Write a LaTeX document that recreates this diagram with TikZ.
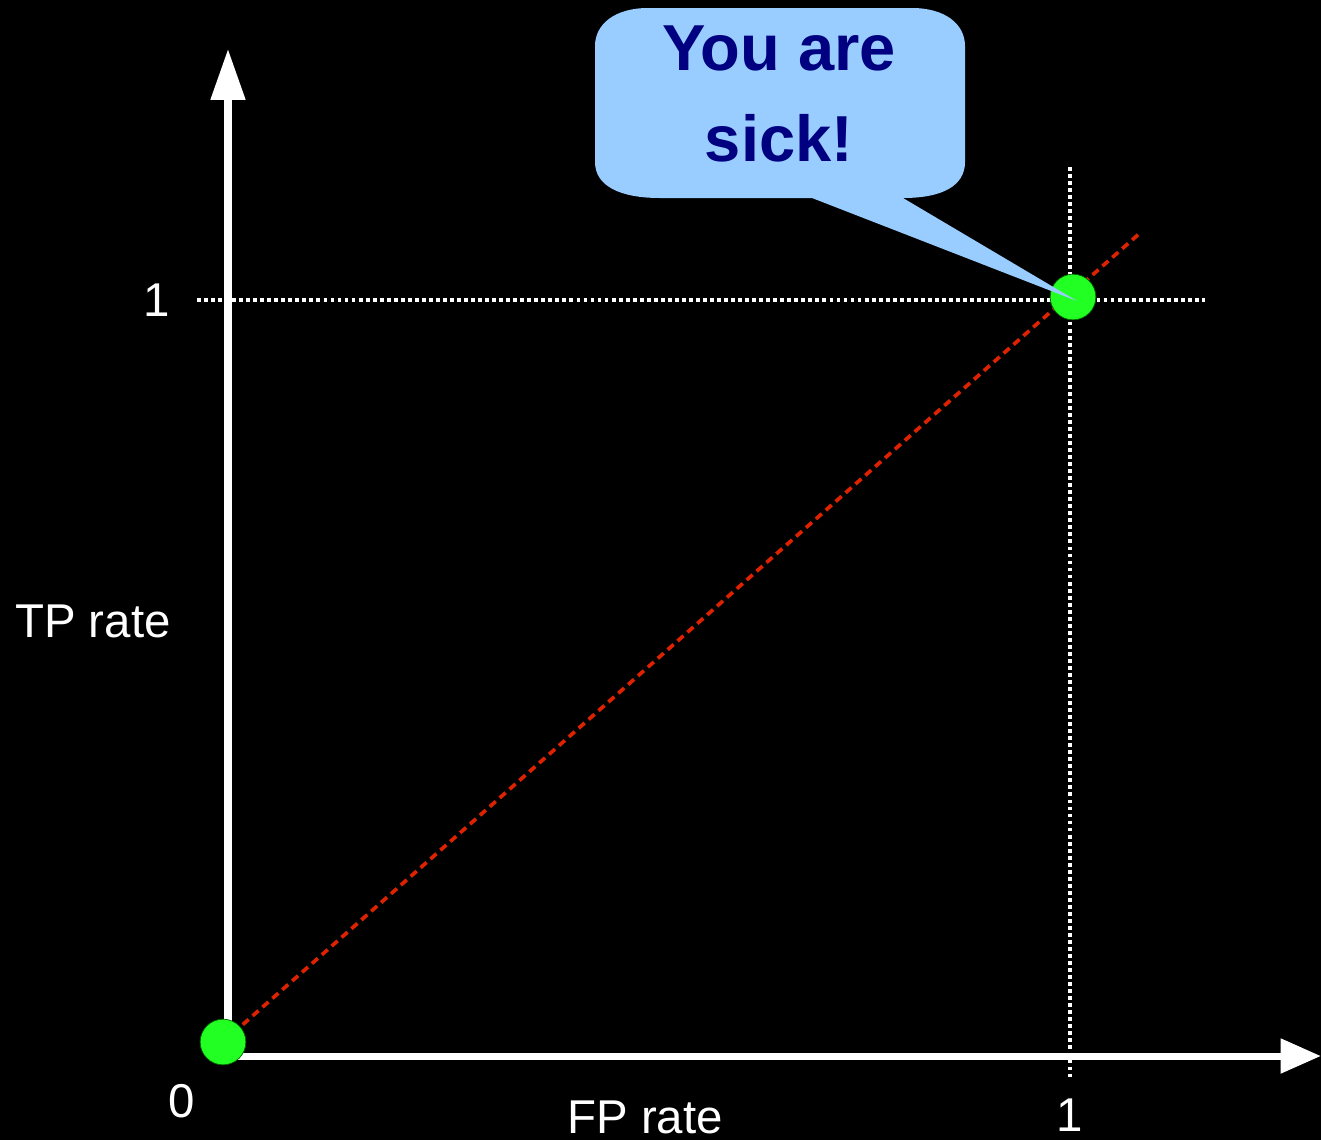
\documentclass[tikz,border=0pt]{standalone}
\usepackage{fontspec}
\setmainfont{Liberation Sans}
\usetikzlibrary{arrows.meta, positioning, calc}
\definecolor{rocgreen}{HTML}{22FF22}
\definecolor{rocred}{HTML}{DD2200}
\definecolor{bubbleblue}{HTML}{99CCFF}
\definecolor{bubbletext}{HTML}{000080}

\begin{document}
\begin{tikzpicture}[
  x=0.02cm, y=-0.02cm,
  axis/.style={draw=white, line width=4pt},
  guide/.style={draw=white, line width=2.4pt, dash pattern=on 2.2pt off 1.8pt},
  chance/.style={draw=rocred, line width=2.1pt, dash pattern=on 4.5pt off 3pt},
  dot/.style={circle, fill=rocgreen, draw=green!40!black, line width=0.4pt,
    minimum size=26pt, inner sep=0pt},
  lbl/.style={text=white, font=\fontsize{27}{31}\selectfont, inner sep=0pt},
  >=Triangle
]
  \fill[black] (0,0) rectangle (1321,1140);
  \useasboundingbox (0,0) rectangle (1321,1140);

  % Guides at 1
  \coordinate (hstart) at (197,300);
  \coordinate (hend) at (1205,300);
  \coordinate (vstart) at (1070,167);
  \coordinate (vend) at (1070,1078);
  \draw[guide] (hstart) -- (hend);
  \draw[guide] (vstart) -- (vend);

  % Axes
  \coordinate (origin) at (228,1056);
  \coordinate (ytip) at (228,49);
  \coordinate (xtip) at (1321,1056);
  \draw[axis, -{Triangle[length=29pt, width=19pt]}] (origin) -- (ytip);
  \draw[axis, -{Triangle[length=23pt, width=19pt]}] (origin) -- (xtip);

  % Diagonal
  \coordinate (p0) at (223,1042);
  \coordinate (p1) at (1073,297);
  \coordinate (diagend) at (1140,233);
  \draw[chance] (p0) -- (diagend);
  \node[dot] (dot0) at (p0) {};
  \node[dot] (dot1) at (p1) {};

  % Labels
  \node[lbl] (yone) at (157,300) {1};
  \node[lbl] (zero) at (182,1101) {0};
  \node[lbl] (xone) at (1070,1115) {1};
  \node[lbl] (ylab) at (93,621) {TP rate};
  \node[lbl] (xlab) at (645,1117) {FP rate};

  % Speech bubble
  \coordinate (tip) at (1077,301);
  \fill[bubbleblue] (648,8) -- (912,8)
    .. controls (945,8) and (965,24) .. (965,46) -- (965,162)
    .. controls (965,186) and (942,198) .. (903,198) -- (tip) -- (812,198)
    -- (660,198) .. controls (620,198) and (595,186) .. (595,162)
    -- (595,46) .. controls (595,24) and (615,8) .. (648,8) -- cycle;
  \node[text=bubbletext, align=center, inner sep=0pt,
    font=\fontsize{37}{52}\selectfont\bfseries] (sick) at (779,94)
    {You are\\sick!};
\end{tikzpicture}
\end{document}
